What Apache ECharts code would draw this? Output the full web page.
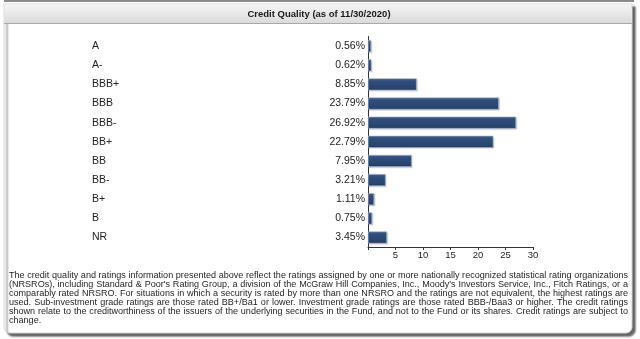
<!DOCTYPE html>
<html>
<head>
<meta charset="utf-8">
<script src="https://cdn.jsdelivr.net/npm/echarts@6/dist/echarts.min.js"></script>
<style>
  html, body { margin: 0; padding: 0; background: #ffffff; }
  #chart { width: 640px; height: 339px; }
</style>
</head>
<body>
<div id="chart"></div>
<script>
// Credit quality breakdown (% of fund)
const ratings = ['A', 'A-', 'BBB+', 'BBB', 'BBB-', 'BB+', 'BB', 'BB-', 'B+', 'B', 'NR'];
const weights = [0.56, 0.62, 8.85, 23.79, 26.92, 22.79, 7.95, 3.21, 1.11, 0.75, 3.45];
const xTicks = [5, 10, 15, 20, 25, 30];

const titleText = 'Credit Quality (as of 11/30/2020)';
const footnoteLines = [
  "The credit quality and ratings information presented above reflect the ratings assigned by one or more nationally recognized statistical rating organizations",
  "(NRSROs), including Standard & Poor's Rating Group, a division of the McGraw Hill Companies, Inc., Moody's Investors Service, Inc., Fitch Ratings, or a",
  "comparably rated NRSRO. For situations in which a security is rated by more than one NRSRO and the ratings are not equivalent, the highest ratings are",
  "used. Sub-investment grade ratings are those rated BB+/Ba1 or lower. Investment grade ratings are those rated BBB-/Baa3 or higher. The credit ratings",
  "shown relate to the creditworthiness of the issuers of the underlying securities in the Fund, and not to the Fund or its shares. Credit ratings are subject to",
  "change."
];

const FONT = '"Liberation Sans", Arial, sans-serif';

// Justified, horizontally condensed footnote: measure words and spread them across the box
function buildFootnote(left, right, top, lineHeight, size) {
  const ctx = document.createElement('canvas').getContext('2d');
  ctx.font = size + 'px ' + FONT;
  let widest = 0;
  footnoteLines.forEach(l => { widest = Math.max(widest, ctx.measureText(l).width); });
  const sx = Math.min(1, (right - left - 3) / widest);
  const space = ctx.measureText(' ').width * sx;
  const els = [];
  footnoteLines.forEach((line, i) => {
    const words = line.split(' ');
    const widths = words.map(w => ctx.measureText(w).width * sx);
    const total = widths.reduce((a, b) => a + b, 0);
    const last = i === footnoteLines.length - 1;
    const gap = last ? space : (right - left - total) / (words.length - 1);
    let x = left;
    words.forEach((w, j) => {
      els.push({
        type: 'text', x: x, y: top + i * lineHeight, scaleX: sx, silent: true,
        style: { text: w, fill: '#1e1e1e', font: size + 'px ' + FONT, textVerticalAlign: 'middle' }
      });
      x += widths[j] + gap;
    });
  });
  return els;
}

const chart = echarts.init(document.getElementById('chart'), null, { renderer: 'canvas' });

const graphics = [
  // shadow line above panel
  { type: 'rect', shape: { x: 4, y: 0, width: 630, height: 2 }, style: { fill: '#8a8a8a' }, z: -20, silent: true },
  // panel with drop shadow
  {
    type: 'rect', shape: { x: 4, y: 4, width: 628, height: 329, r: [0, 0, 6, 6] },
    style: { fill: '#ffffff', stroke: '#d4d4d4', lineWidth: 1,
      shadowColor: 'rgba(0,0,0,0.6)', shadowBlur: 2, shadowOffsetX: 3, shadowOffsetY: 3 },
    z: -10, silent: true
  },
  // header bar
  {
    type: 'rect', shape: { x: 4.5, y: 4.5, width: 627, height: 19 },
    style: {
      fill: new echarts.graphic.LinearGradient(0, 0, 0, 1, [
        { offset: 0, color: '#f4f4f4' }, { offset: 1, color: '#dadada' }
      ]),
      stroke: null
    },
    z: -5, silent: true
  },
  { type: 'line', shape: { x1: 4, y1: 23.5, x2: 632, y2: 23.5 }, style: { stroke: '#a9a9a9', lineWidth: 1 }, z: -4, silent: true },
  {
    type: 'text', x: 319, y: 14.5, silent: true,
    style: { text: titleText, fill: '#1a1a1a', font: 'bold 9.5px ' + FONT, textAlign: 'center', textVerticalAlign: 'middle' }
  }
].concat(buildFootnote(9, 628, 275, 9, 9.5));

chart.setOption({
  animation: false,
  backgroundColor: '#ffffff',
  grid: { left: 368, right: 107, top: 36.5, bottom: 92, containLabel: false },
  xAxis: {
    type: 'value', min: 0, max: 30, interval: 5,
    axisLine: { show: true, lineStyle: { color: '#333333', width: 1 } },
    axisTick: { show: true, length: 3, lineStyle: { color: '#333333' } },
    axisLabel: {
      color: '#222222', fontSize: 9.5, fontFamily: FONT, margin: 3,
      formatter: v => (xTicks.indexOf(v) >= 0 ? String(v) : '')
    },
    splitLine: { show: false }
  },
  yAxis: {
    type: 'category', data: ratings, inverse: true,
    axisLine: { show: true, lineStyle: { color: '#333333', width: 1 } },
    axisTick: { show: false },
    axisLabel: { align: 'left', margin: 276, color: '#222222', fontSize: 10.5, fontFamily: FONT }
  },
  series: [{
    type: 'bar', data: weights, barWidth: 12,
    itemStyle: {
      color: new echarts.graphic.LinearGradient(0, 0, 0, 1, [
        { offset: 0, color: '#4b6894' },
        { offset: 0.25, color: '#304e7c' },
        { offset: 0.8, color: '#29446d' },
        { offset: 1, color: '#1d3356' }
      ]),
      borderColor: '#a9b8cf', borderWidth: 0.6,
      shadowColor: 'rgba(40,60,100,0.25)', shadowBlur: 1, shadowOffsetX: 1, shadowOffsetY: 1
    },
    label: {
      show: true, position: 'left', distance: 3,
      color: '#222222', fontSize: 10.5, fontFamily: FONT,
      formatter: p => p.value.toFixed(2) + '%'
    }
  }],
  graphic: graphics
});
</script>
</body>
</html>
